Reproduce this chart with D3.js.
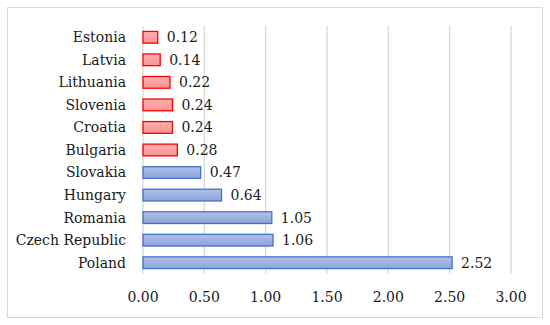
<html>
<head>
  <script src="https://d3js.org/d3.v7.min.js"></script>
  <style>
    body { margin: 0; background: #fff; }
    text { font-family: "DejaVu Serif", serif; font-size: 14px; fill: #1a1a1a; }
  </style>
</head>
<body>
  <svg id="chart" width="550" height="325"></svg>
  <script>
    // data, top to bottom
    const countries = ["Estonia", "Latvia", "Lithuania", "Slovenia", "Croatia", "Bulgaria",
                       "Slovakia", "Hungary", "Romania", "Czech Republic", "Poland"];
    const values = [0.12, 0.14, 0.22, 0.24, 0.24, 0.28, 0.47, 0.64, 1.05, 1.06, 2.52];
    const groups = ["red", "red", "red", "red", "red", "red", "blue", "blue", "blue", "blue", "blue"];
    const xTicks = [0, 0.5, 1, 1.5, 2, 2.5, 3];

    const svg = d3.select("#chart");
    const margin = {top: 26, left: 143, right: 39, bottom: 51};
    const width = 550, height = 325;

    // gradients for bar fills
    const defs = svg.append("defs");
    const grad = (id, c1, c2) => {
      const g = defs.append("linearGradient").attr("id", id)
        .attr("x1", 0).attr("y1", 0).attr("x2", 0).attr("y2", 1);
      g.append("stop").attr("offset", "0%").attr("stop-color", c1);
      g.append("stop").attr("offset", "100%").attr("stop-color", c2);
    };
    grad("gblue", "#b0c0ea", "#8ea3da");
    grad("gred", "#ffb0b0", "#f59494");

    // outer frame
    svg.append("rect").attr("x", 7.5).attr("y", 7.5).attr("width", 535).attr("height", 310)
       .attr("fill", "#fff").attr("stroke", "#d9d9d9");

    const x = d3.scaleLinear().domain([0, 3]).range([margin.left, width - margin.right]);
    const y = d3.scaleBand().domain(countries).range([margin.top, height - margin.bottom])
                .paddingInner(0.48).paddingOuter(0.24);

    // gridlines
    svg.append("g").selectAll("line").data(xTicks.slice(1)).join("line")
       .attr("x1", d => x(d)).attr("x2", d => x(d))
       .attr("y1", margin.top).attr("y2", height - margin.bottom)
       .attr("stroke", "#d9d9d9").attr("stroke-width", 1.3);

    // category axis line
    svg.append("line").attr("x1", x(0)).attr("x2", x(0))
       .attr("y1", margin.top).attr("y2", height - margin.bottom)
       .attr("stroke", "#d9d9d9").attr("stroke-width", 1.3);

    // bars
    svg.append("g").selectAll("rect").data(values).join("rect")
       .attr("x", x(0))
       .attr("y", (d, i) => y(countries[i]))
       .attr("width", d => x(d) - x(0))
       .attr("height", y.bandwidth())
       .attr("fill", (d, i) => groups[i] === "red" ? "url(#gred)" : "url(#gblue)")
       .attr("stroke", (d, i) => groups[i] === "red" ? "#ff0000" : "#4472c4")
       .attr("stroke-width", 1.3);

    // value labels
    svg.append("g").selectAll("text").data(values).join("text")
       .attr("x", d => x(d) + 9)
       .attr("y", (d, i) => y(countries[i]) + y.bandwidth() / 2)
       .attr("dy", "0.35em")
       .text(d => d.toFixed(2));

    // category labels
    svg.append("g").selectAll("text").data(countries).join("text")
       .attr("x", 126)
       .attr("y", d => y(d) + y.bandwidth() / 2)
       .attr("dy", "0.35em")
       .attr("text-anchor", "end")
       .text(d => d);

    // x tick labels
    svg.append("g").selectAll("text").data(xTicks).join("text")
       .attr("x", d => x(d))
       .attr("y", 297)
       .attr("dy", "0.35em")
       .attr("text-anchor", "middle")
       .text(d => d3.format(".2f")(d));
  </script>
</body>
</html>
